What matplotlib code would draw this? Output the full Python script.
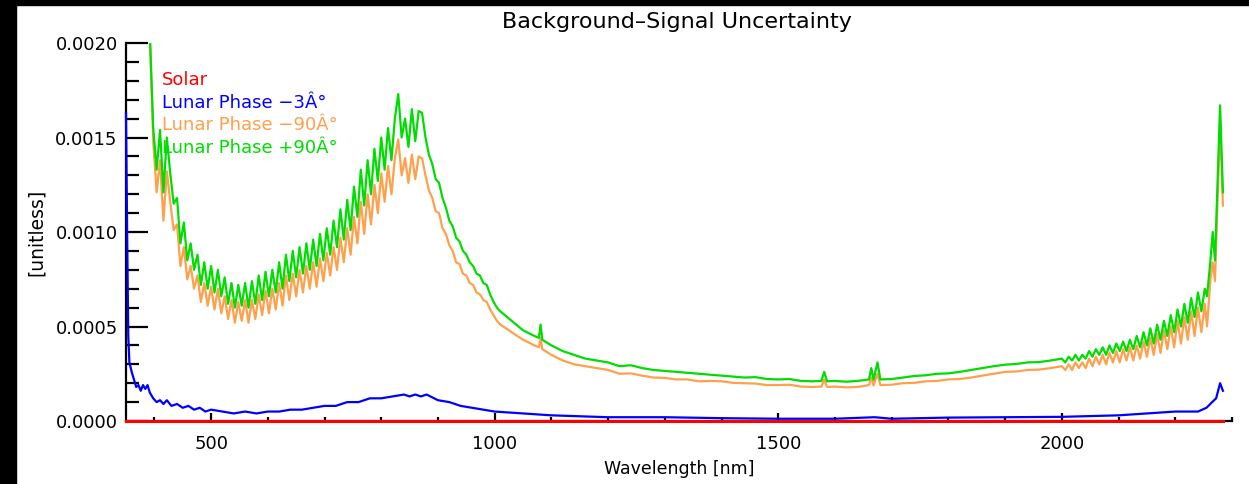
import numpy as np
import matplotlib
matplotlib.use("Agg")
import matplotlib.pyplot as plt
from matplotlib.patches import Rectangle
from matplotlib.ticker import MultipleLocator, FormatStrFormatter

# wavelength grid of the +/-90 deg curves, 392-1004 nm (6 nm samples)
wl_a = np.arange(392, 1005, 6)
green_a = [
    0.00205, 0.00155, 0.00133, 0.00154, 0.00121, 0.00150, 0.00131, 0.00115, 0.00118, 0.00094,
    0.00105, 0.00085, 0.00094, 0.00080, 0.00088, 0.00072, 0.00084, 0.00070, 0.00082, 0.00068,
    0.00080, 0.00066, 0.00076, 0.00062, 0.00073, 0.00060, 0.00072, 0.00061, 0.00073, 0.00060,
    0.00074, 0.00062, 0.00077, 0.00064, 0.00079, 0.00066, 0.00080, 0.00068, 0.00084, 0.00070,
    0.00088, 0.00074, 0.00090, 0.00076, 0.00092, 0.00078, 0.00094, 0.00080, 0.00096, 0.00082,
    0.00099, 0.00085, 0.00102, 0.00088, 0.00106, 0.00092, 0.00112, 0.00096, 0.00117, 0.00101,
    0.00124, 0.00108, 0.00133, 0.00114, 0.00138, 0.00120, 0.00144, 0.00127, 0.00150, 0.00133,
    0.00155, 0.00138, 0.00160, 0.00173, 0.00150, 0.00160, 0.00145, 0.00165, 0.00148, 0.00164,
    0.00163, 0.00150, 0.00141, 0.00136, 0.00128, 0.00126, 0.00118, 0.00113, 0.00106, 0.00103,
    0.00097, 0.00095, 0.00090, 0.00088, 0.00084, 0.00082, 0.00078, 0.00077, 0.00073, 0.00072,
    0.00067, 0.00063, 0.00060,
]
orange_a = [
    0.00205, 0.00148, 0.00121, 0.00138, 0.00106, 0.00132, 0.00116, 0.00101, 0.00104, 0.00082,
    0.00092, 0.00075, 0.00082, 0.00070, 0.00077, 0.00063, 0.00073, 0.00061, 0.00071, 0.00059,
    0.00070, 0.00057, 0.00066, 0.00054, 0.00064, 0.00052, 0.00063, 0.00053, 0.00064, 0.00052,
    0.00064, 0.00054, 0.00067, 0.00056, 0.00069, 0.00057, 0.00070, 0.00059, 0.00073, 0.00061,
    0.00077, 0.00064, 0.00078, 0.00066, 0.00080, 0.00068, 0.00082, 0.00070, 0.00084, 0.00071,
    0.00086, 0.00074, 0.00089, 0.00077, 0.00092, 0.00080, 0.00097, 0.00084, 0.00102, 0.00088,
    0.00108, 0.00094, 0.00116, 0.00099, 0.00120, 0.00104, 0.00125, 0.00110, 0.00131, 0.00116,
    0.00135, 0.00120, 0.00139, 0.00149, 0.00130, 0.00139, 0.00126, 0.00141, 0.00128, 0.00140,
    0.00139, 0.00130, 0.00122, 0.00118, 0.00111, 0.00110, 0.00102, 0.00099, 0.00093, 0.00090,
    0.00084, 0.00083, 0.00078, 0.00077, 0.00073, 0.00072, 0.00068, 0.00067, 0.00064, 0.00063,
    0.00059, 0.00056, 0.00053,
]

# 1010-1980 nm, flat part with a few spikes
wl_b = [1010, 1030, 1050, 1070, 1078, 1081, 1084, 1100, 1120, 1140,
        1160, 1180, 1200, 1220, 1240, 1260, 1280, 1300, 1320, 1340,
        1360, 1380, 1400, 1420, 1440, 1460, 1480, 1500, 1520, 1540,
        1560, 1576, 1581, 1586, 1600, 1620, 1640, 1660, 1664, 1668,
        1675, 1680, 1700, 1720, 1740, 1760, 1780, 1800, 1820, 1840,
        1860, 1880, 1900, 1920, 1940, 1960, 1980]
green_b = [0.00058, 0.00053, 0.00048, 0.00045, 0.00044, 0.00051, 0.00043, 0.00040, 0.00037, 0.00035,
           0.00033, 0.00032, 0.00031, 0.00029, 0.000295, 0.00028, 0.00027, 0.000265, 0.00026, 0.000255,
           0.00025, 0.000245, 0.00024, 0.000235, 0.00023, 0.000232, 0.000222, 0.00022, 0.000222, 0.000212,
           0.00021, 0.000212, 0.00026, 0.00021, 0.000212, 0.000208, 0.000212, 0.00022, 0.00028, 0.000218,
           0.00031, 0.00022, 0.000222, 0.00023, 0.000238, 0.000242, 0.00025, 0.000252, 0.00026, 0.00027,
           0.00028, 0.00029, 0.000298, 0.000302, 0.00031, 0.000312, 0.00032]
orange_b = [0.00051, 0.00047, 0.00043, 0.00040, 0.00039, 0.00044, 0.00038, 0.00035, 0.00032, 0.00030,
            0.00029, 0.00028, 0.00027, 0.00025, 0.000252, 0.00024, 0.00023, 0.000228, 0.00022, 0.00022,
            0.00021, 0.000212, 0.00021, 0.000202, 0.0002, 0.000198, 0.00019, 0.00019, 0.000192, 0.000182,
            0.00018, 0.000182, 0.00022, 0.00018, 0.000182, 0.000178, 0.00018, 0.00019, 0.00023, 0.000188,
            0.00025, 0.00019, 0.000192, 0.0002, 0.000202, 0.00021, 0.000212, 0.00022, 0.000222, 0.00023,
            0.00024, 0.00025, 0.00026, 0.000262, 0.00027, 0.000272, 0.00028]

# 2000-2284 nm, growing ripple and the end spike
wl_c = [2000, 2006, 2012, 2018, 2024, 2030, 2036, 2042, 2048, 2054,
        2060, 2066, 2072, 2078, 2084, 2090, 2096, 2102, 2108, 2114,
        2120, 2126, 2132, 2138, 2144, 2150, 2156, 2162, 2168, 2174,
        2180, 2186, 2192, 2198, 2204, 2210, 2216, 2222, 2228, 2234,
        2240, 2246, 2252, 2256, 2262, 2266, 2270, 2279, 2284]
green_c = [0.00033, 0.00031, 0.00034, 0.00032, 0.00035, 0.00032, 0.00035, 0.00033, 0.00037, 0.00034,
           0.00038, 0.00035, 0.00039, 0.00035, 0.00040, 0.00036, 0.00041, 0.00037, 0.00042, 0.00037,
           0.00043, 0.00038, 0.00045, 0.00039, 0.00047, 0.00040, 0.00049, 0.00041, 0.00051, 0.00043,
           0.00053, 0.00045, 0.00056, 0.00047, 0.00059, 0.00050, 0.00062, 0.00052, 0.00065, 0.00055,
           0.00068, 0.00058, 0.00070, 0.00066, 0.00085, 0.00100, 0.00085, 0.00167, 0.00121]
orange_c = [0.00029, 0.00027, 0.00030, 0.00027, 0.00031, 0.00028, 0.00031, 0.00028, 0.00033, 0.00029,
            0.00034, 0.00030, 0.00035, 0.00030, 0.00036, 0.00031, 0.00037, 0.00031, 0.00038, 0.00032,
            0.00039, 0.00032, 0.00040, 0.00033, 0.00042, 0.00034, 0.00044, 0.00035, 0.00046, 0.00036,
            0.00048, 0.00038, 0.00050, 0.00039, 0.00053, 0.00041, 0.00055, 0.00043, 0.00058, 0.00045,
            0.00060, 0.00047, 0.00062, 0.00050, 0.00075, 0.00084, 0.00074, 0.00158, 0.00114]

# lunar phase -3 deg
blue_wl = [350, 352, 354, 356, 360, 364, 368, 372, 376, 380,
           384, 388, 392, 398, 404, 410, 416, 422, 430, 440,
           450, 460, 470, 480, 490, 500, 520, 540, 560, 580,
           600, 620, 640, 660, 680, 700, 720, 740, 760, 780,
           800, 820, 840, 850, 860, 870, 880, 900, 920, 940,
           960, 980, 1000, 1050, 1100, 1200, 1300, 1400, 1500,
           1600, 1670, 1700, 1800, 1900, 2000, 2100, 2150, 2200, 2240,
           2255, 2265, 2272, 2279, 2284]
blue = [0.00163, 0.00100, 0.00045, 0.00031, 0.00026, 0.00022, 0.00018, 0.00019, 0.00016, 0.00019,
        0.00017, 0.00019, 0.00015, 0.00012, 0.00010, 0.00011, 0.00009, 0.00011, 0.00008, 0.00009,
        0.00007, 0.00008, 0.00006, 0.00007, 0.00005, 0.00006, 0.00005, 0.00004, 0.00005, 0.00004,
        0.00005, 0.00005, 0.00006, 0.00006, 0.00007, 0.00008, 0.00008, 0.00010, 0.00010, 0.00012,
        0.00012, 0.00013, 0.00014, 0.00013, 0.00014, 0.00013, 0.00014, 0.00011, 0.00010, 0.00008,
        0.00007, 0.00006, 0.00005, 0.00004, 0.00003, 0.00002, 0.00002, 0.000015, 0.000012,
        0.000012, 0.00002, 0.000012, 0.000018, 0.00002, 0.000022, 0.00003, 0.00004, 0.00005, 0.00005,
        0.00007, 0.00010, 0.00012, 0.00020, 0.00016]

solar_wl = [350, 2284]
solar = [0.0, 0.0]

labels = ["Solar", "Lunar Phase \u22123\u00c2\u00b0", "Lunar Phase \u221290\u00c2\u00b0",
          "Lunar Phase +90\u00c2\u00b0"]
colors = ["#ff0000", "#0000ff", "#ffa04c", "#00dd00"]

green_wl = np.concatenate([wl_a, wl_b, wl_c])
green = np.concatenate([green_a, green_b, green_c])
orange = np.concatenate([orange_a, orange_b, orange_c])

plt.rcParams['font.family'] = ['DejaVu Sans']
fig = plt.figure(figsize=(12.49, 4.84), dpi=100)
fig.patches.append(Rectangle((0, 1 - 5 / 484), 1, 5 / 484, transform=fig.transFigure,
                             color="black", zorder=10))
fig.patches.append(Rectangle((0, 0), 16 / 1249, 1, transform=fig.transFigure,
                             color="black", zorder=10))

ax = fig.add_axes([126 / 1249, 1 - 421 / 484, (1232 - 126) / 1249, (421 - 43) / 484])
ax.plot(blue_wl, blue, color=colors[1], lw=1.6, zorder=3, clip_on=False)
ax.plot(green_wl, orange, color=colors[2], lw=1.6, zorder=3)
ax.plot(green_wl, green, color=colors[3], lw=1.6, zorder=3)
ax.plot(solar_wl, solar, color=colors[0], lw=2.2, zorder=4, clip_on=False)

ax.set_xlim(350, 2300)
ax.set_ylim(0, 0.002)
for s in ["top", "right"]:
    ax.spines[s].set_visible(False)
for s in ["left", "bottom"]:
    ax.spines[s].set_linewidth(1.6)

ax.xaxis.set_major_locator(MultipleLocator(500))
ax.xaxis.set_minor_locator(MultipleLocator(100))
ax.yaxis.set_major_locator(MultipleLocator(0.0005))
ax.yaxis.set_minor_locator(MultipleLocator(0.0001))
ax.yaxis.set_major_formatter(FormatStrFormatter('%.4f'))
ax.tick_params(axis='y', which='major', direction='in', length=16, width=1.6,
               labelsize=13, pad=6)
ax.tick_params(axis='y', which='minor', direction='in', length=9, width=1.6)
ax.tick_params(axis='x', which='major', direction='in', length=6, width=1.6,
               labelsize=13, pad=10)
ax.tick_params(axis='x', which='minor', direction='in', length=3, width=1.6)

ax.set_xlabel("Wavelength [nm]", fontsize=12.5, labelpad=5)
ax.set_ylabel("[unitless]", fontsize=13.5, labelpad=7)
fig.text(677 / 1249, 1 - 22 / 484, "Background\u2013Signal Uncertainty",
         fontsize=16, ha="center", va="center")

# legend as coloured text, placed in axes fraction
for i, (lab, c) in enumerate(zip(labels, colors)):
    ax.text(36 / 1106, 1 - (80 - 43 + 22.6 * i) / 378, lab, color=c,
            fontsize=13, va="center", ha="left", transform=ax.transAxes)

fig.savefig("out.png", dpi=100)
